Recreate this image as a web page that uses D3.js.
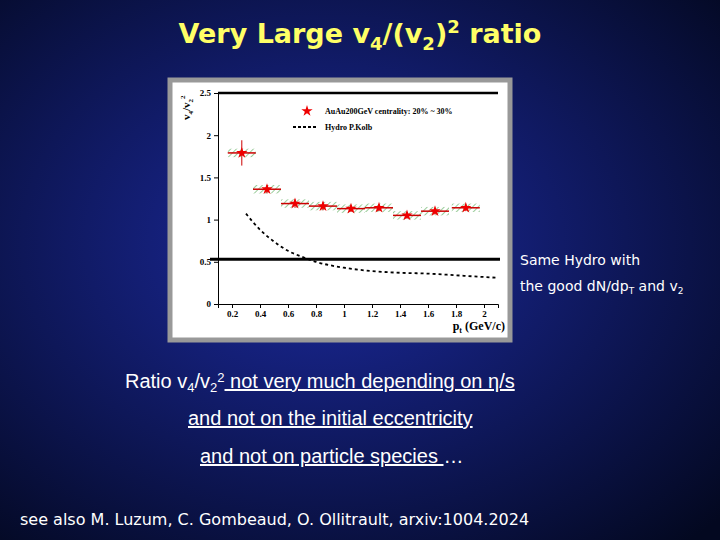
<!DOCTYPE html><html><head><meta charset="utf-8"><script src="https://cdn.jsdelivr.net/npm/d3@7"></script>
<style>body{margin:0;background:#000}</style></head><body><script>
const ptX=[0.27,0.45,0.65,0.85,1.05,1.25,1.45,1.65,1.87];
const ratio=[1.79,1.36,1.19,1.16,1.13,1.14,1.05,1.10,1.14];
const errY=[0.15,0.05,0.05,0.05,0.04,0.04,0.04,0.04,0.04];
const hydroX=[0.3,0.4,0.5,0.6,0.7,0.8,1.0,1.2,1.4,1.6,1.8,2.0,2.1];
const hydroY=[1.07,0.88,0.74,0.63,0.56,0.50,0.43,0.39,0.37,0.36,0.34,0.32,0.31];
const xTicks=[0.2,0.4,0.6,0.8,1,1.2,1.4,1.6,1.8,2];
const yTicks=[0,0.5,1,1.5,2,2.5];
const svg=d3.select("body").append("svg").attr("width",720).attr("height",540);
const defs=svg.append("defs");
const g=defs.append("radialGradient").attr("id","bg").attr("cx","45%").attr("cy","45%").attr("r","75%");
g.append("stop").attr("offset","0%").attr("stop-color","#1c2aa0");
g.append("stop").attr("offset","100%").attr("stop-color","#030820");
svg.append("rect").attr("width",720).attr("height",540).attr("fill","url(#bg)");
const hat=defs.append("pattern").attr("id","hat").attr("width",4).attr("height",4).attr("patternUnits","userSpaceOnUse").attr("patternTransform","rotate(45)");
hat.append("line").attr("x1",0).attr("y1",0).attr("x2",0).attr("y2",4).attr("stroke","#5a5").attr("stroke-width",1.2);
svg.append("text").attr("x",360).attr("y",43).attr("text-anchor","middle").attr("fill","#ffff66").attr("font-family","Verdana, DejaVu Sans, sans-serif").attr("font-weight","bold").attr("font-size",27)
 .html('Very Large v<tspan font-size="18" dy="7">4</tspan><tspan dy="-7">/(v</tspan><tspan font-size="18" dy="7">2</tspan><tspan dy="-7">)</tspan><tspan font-size="18" dy="-10">2</tspan><tspan dy="10"> ratio</tspan>');
svg.append("rect").attr("x",170).attr("y",80).attr("width",340).attr("height",260).attr("fill","#fff").attr("stroke","#999").attr("stroke-width",5);
const x=d3.scaleLinear().domain([0.1,2.1]).range([218,498]);
const y=d3.scaleLinear().domain([0,2.5]).range([304,93]);
const p=svg.append("g");
p.append("g").attr("transform","translate(218,0)").call(d3.axisLeft(y).tickValues(yTicks).tickFormat(d3.format("")).tickSize(4))
 .call(a=>a.selectAll("text").attr("font-family","Liberation Serif").attr("font-size",9).attr("font-weight","bold"));
p.append("g").attr("transform","translate(0,304)").call(d3.axisBottom(x).tickValues(xTicks).tickFormat(d3.format("")).tickSize(4))
 .call(a=>a.selectAll("text").attr("font-family","Liberation Serif").attr("font-size",9).attr("font-weight","bold"));
p.append("line").attr("x1",218).attr("x2",498).attr("y1",93).attr("y2",93).attr("stroke","#000").attr("stroke-width",2.5);
p.append("text").attr("x",505).attr("y",330).attr("text-anchor","end").attr("font-family","Liberation Serif").attr("font-weight","bold").attr("font-size",12).html('p<tspan font-size="8" dy="3">t</tspan><tspan dy="-3"> (GeV/c)</tspan>');
p.append("text").attr("transform","translate(190,120) rotate(-90)").attr("font-family","Liberation Serif").attr("font-weight","bold").attr("font-size",11).html('v<tspan font-size="7" dy="3">4</tspan><tspan dy="-3">/v</tspan><tspan font-size="7" dy="3">2</tspan><tspan font-size="7" dy="-8">2</tspan>');
p.selectAll(".sys").data(ptX).join("rect").attr("x",(d,i)=>x(d-0.1)).attr("width",(d,i)=>x(d+0.1)-x(d-0.1))
 .attr("y",(d,i)=>y(ratio[i]+0.05)).attr("height",(d,i)=>y(ratio[i]-0.05)-y(ratio[i]+0.05)).attr("fill","url(#hat)");
p.append("path").datum(hydroX.map((d,i)=>[d,hydroY[i]])).attr("d",d3.line().x(d=>x(d[0])).y(d=>y(d[1])).curve(d3.curveMonotoneX))
 .attr("fill","none").attr("stroke","#000").attr("stroke-width",1.8).attr("stroke-dasharray","3,3");
p.append("line").attr("x1",210).attr("x2",500).attr("y1",y(0.53)).attr("y2",y(0.53)).attr("stroke","#000").attr("stroke-width",3);
p.selectAll(".ex").data(ptX).join("line").attr("x1",d=>x(d-0.1)).attr("x2",d=>x(d+0.1)).attr("y1",(d,i)=>y(ratio[i])).attr("y2",(d,i)=>y(ratio[i])).attr("stroke","#c00").attr("stroke-width",1.5);
p.selectAll(".ey").data(ptX).join("line").attr("x1",d=>x(d)).attr("x2",d=>x(d)).attr("y1",(d,i)=>y(ratio[i]+errY[i])).attr("y2",(d,i)=>y(ratio[i]-errY[i])).attr("stroke","#c00").attr("stroke-width",1);
const star=d3.symbol().type(d3.symbolStar).size(40);
p.selectAll(".pt").data(ptX).join("path").attr("d",star).attr("transform",(d,i)=>`translate(${x(d)},${y(ratio[i])})`).attr("fill","#e00");
p.append("path").attr("d",star).attr("transform","translate(307,111)").attr("fill","#e00");
p.append("text").attr("x",325).attr("y",114).attr("font-family","Liberation Serif").attr("font-weight","bold").attr("font-size",8).text("AuAu200GeV centrality: 20% ~ 30%");
p.append("line").attr("x1",293).attr("x2",317).attr("y1",127).attr("y2",127).attr("stroke","#000").attr("stroke-width",1.8).attr("stroke-dasharray","3,2");
p.append("text").attr("x",325).attr("y",130).attr("font-family","Liberation Serif").attr("font-weight","bold").attr("font-size",8).text("Hydro P.Kolb");
const st=svg.append("g").attr("fill","#fff").attr("font-family","DejaVu Sans").attr("font-size",14);
st.append("text").attr("x",520).attr("y",265).text("Same Hydro with");
st.append("text").attr("x",520).attr("y",291).html('the good dN/dp<tspan font-size="9" dy="3">T</tspan><tspan dy="-3"> and v</tspan><tspan font-size="9" dy="3">2</tspan>');
const bt=svg.append("g").attr("fill","#fff").attr("font-family","Liberation Sans").attr("font-size",20);
bt.append("text").attr("x",125).attr("y",388).html('Ratio v<tspan font-size="13" dy="4">4</tspan><tspan dy="-4">/v</tspan><tspan font-size="13" dy="4">2</tspan><tspan font-size="13" dy="-10">2</tspan><tspan dy="6" text-decoration="underline"> not very much depending on η/s</tspan>');
bt.append("text").attr("x",188).attr("y",425).attr("text-decoration","underline").text("and not on the initial eccentricity");
bt.append("text").attr("x",200).attr("y",463).html('<tspan text-decoration="underline">and not on particle species </tspan>…');
svg.append("text").attr("x",20).attr("y",525).attr("fill","#fff").attr("font-family","DejaVu Sans").attr("font-size",16).text("see also M. Luzum, C. Gombeaud, O.  Ollitrault, arxiv:1004.2024");
</script></body></html>
